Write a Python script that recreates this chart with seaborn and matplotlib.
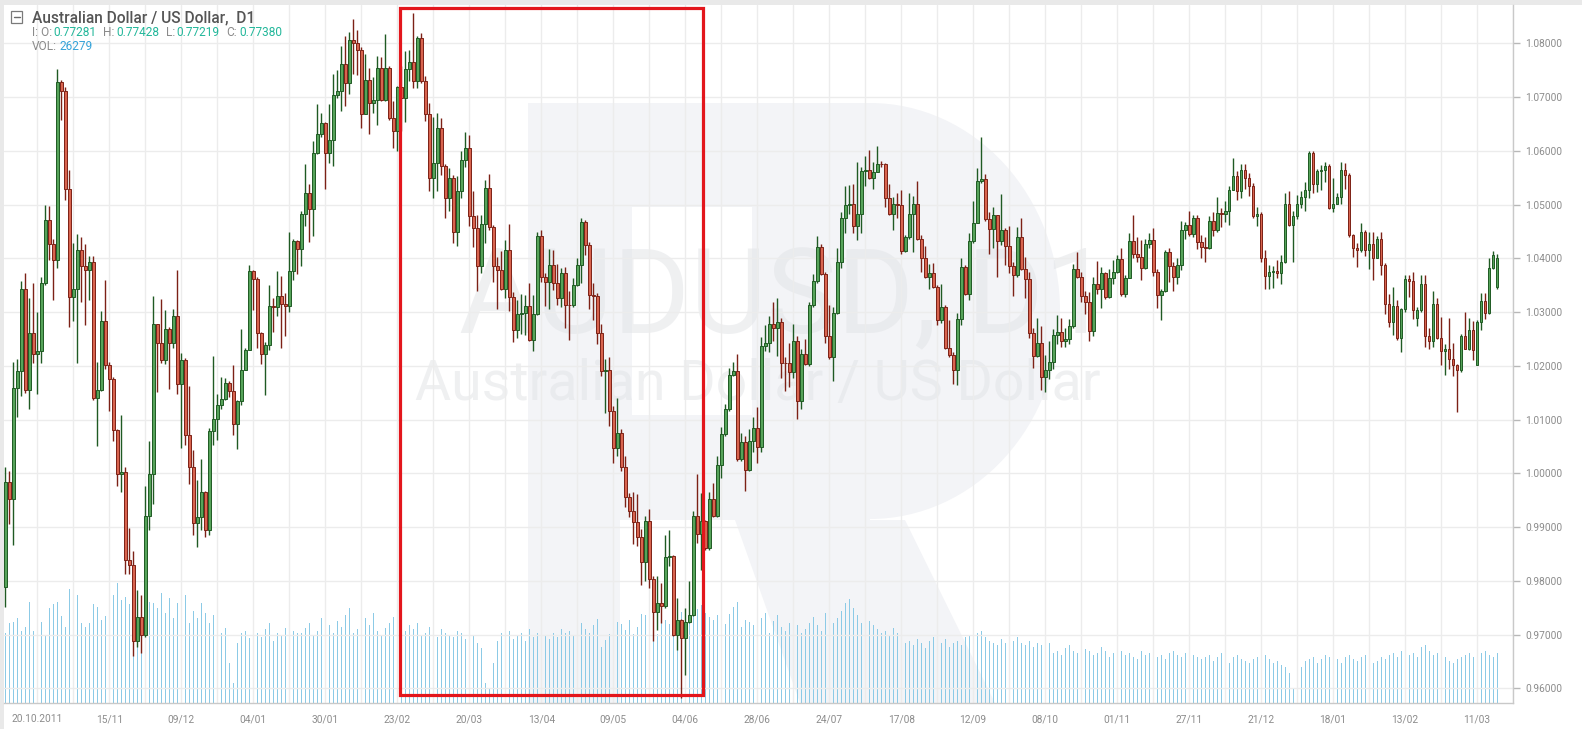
import matplotlib
matplotlib.use("Agg")
import matplotlib.pyplot as plt
import numpy as np
import pandas as pd
import seaborn as sns
from matplotlib.patches import Rectangle, Polygon, Ellipse

# ---------------- data (prices in 1e-4 units) ----------------
closes = [9984, 9952, 10158, 10190, 10344, 10155, 10262, 10222, 10228, 10354, 10472, 10426, 10397, 10729, 10711, 10529, 10329, 10344, 10416, 10386,
          10378, 10393, 10140, 10155, 10283, 10201, 10176, 10080, 9998, 10002, 9839, 9830, 9688, 9732, 9699, 9920, 9998, 10278, 10242, 10211,
          10269, 10242, 10293, 10166, 10211, 10071, 10012, 9907, 9919, 9966, 9894, 10078, 10101, 10127, 10139, 10168, 10153, 10091, 10135, 10193,
          10230, 10376, 10362, 10261, 10222, 10238, 10311, 10309, 10330, 10315, 10312, 10376, 10433, 10418, 10482, 10522, 10491, 10597, 10631, 10651,
          10597, 10620, 10704, 10711, 10761, 10727, 10806, 10800, 10788, 10668, 10732, 10690, 10694, 10755, 10694, 10755, 10661, 10637, 10718, 10699,
          10752, 10766, 10730, 10810, 10730, 10668, 10550, 10578, 10643, 10572, 10513, 10550, 10450, 10525, 10584, 10605, 10478, 10457, 10385, 10464,
          10531, 10458, 10385, 10379, 10343, 10416, 10329, 10267, 10296, 10298, 10312, 10248, 10296, 10441, 10365, 10356, 10388, 10354, 10327, 10373,
          10314, 10313, 10351, 10387, 10468, 10425, 10331, 10330, 10261, 10191, 10193, 10116, 10048, 10076, 10012, 9957, 9930, 9909, 9882, 9835,
          9911, 9804, 9742, 9758, 9753, 9845, 9846, 9700, 9727, 9694, 9723, 9737, 9920, 9888, 9911, 9861, 9952, 9920, 10015, 10073,
          10119, 10184, 10191, 10027, 10058, 10006, 10060, 10085, 10050, 10237, 10243, 10278, 10270, 10282, 10206, 10205, 10188, 10247, 10135, 10222,
          10203, 10313, 10358, 10422, 10371, 10255, 10217, 10299, 10393, 10475, 10499, 10501, 10460, 10483, 10563, 10565, 10549, 10561, 10576, 10575,
          10512, 10483, 10501, 10500, 10414, 10440, 10482, 10502, 10437, 10401, 10366, 10372, 10347, 10285, 10310, 10234, 10220, 10192, 10288, 10384,
          10333, 10432, 10465, 10544, 10548, 10473, 10455, 10480, 10432, 10453, 10424, 10386, 10369, 10440, 10380, 10361, 10262, 10219, 10242, 10179,
          10192, 10207, 10258, 10263, 10246, 10250, 10275, 10381, 10366, 10330, 10319, 10265, 10353, 10344, 10372, 10329, 10363, 10374, 10399, 10333,
          10363, 10432, 10409, 10403, 10383, 10426, 10434, 10375, 10332, 10339, 10412, 10386, 10366, 10388, 10453, 10463, 10445, 10476, 10431, 10422,
          10419, 10470, 10453, 10484, 10482, 10488, 10527, 10554, 10525, 10565, 10550, 10534, 10478, 10482, 10400, 10368, 10375, 10376, 10372, 10393,
          10502, 10462, 10478, 10502, 10515, 10527, 10596, 10538, 10563, 10565, 10571, 10494, 10502, 10515, 10565, 10555, 10443, 10420, 10416, 10450,
          10416, 10426, 10401, 10436, 10388, 10316, 10281, 10312, 10251, 10306, 10361, 10358, 10304, 10304, 10353, 10256, 10246, 10316, 10252, 10227,
          10232, 10212, 10201, 10192, 10256, 10232, 10266, 10229, 10281, 10320, 10298, 10383, 10406, 10400]

highs = [10012, 10005, 10207, 10212, 10358, 10372, 10327, 10354, 10300, 10365, 10500, 10497, 10436, 10753, 10732, 10718, 10565, 10429, 10445, 10440,
         10426, 10404, 10405, 10208, 10302, 10359, 10208, 10180, 10083, 10108, 10012, 9898, 9855, 9784, 9773, 9977, 10060, 10330, 10278, 10325,
         10304, 10273, 10306, 10379, 10224, 10214, 10163, 10043, 9988, 10027, 9967, 10085, 10219, 10148, 10180, 10177, 10171, 10202, 10137, 10268,
         10234, 10387, 10379, 10365, 10264, 10245, 10351, 10327, 10377, 10367, 10335, 10450, 10437, 10435, 10488, 10575, 10539, 10619, 10687, 10671,
         10653, 10687, 10743, 10750, 10796, 10814, 10822, 10845, 10825, 10793, 10780, 10755, 10737, 10777, 10774, 10817, 10758, 10693, 10720, 10758,
         10786, 10788, 10856, 10814, 10819, 10740, 10690, 10663, 10670, 10662, 10575, 10569, 10556, 10553, 10600, 10635, 10630, 10526, 10481, 10481,
         10545, 10557, 10463, 10402, 10413, 10435, 10464, 10337, 10323, 10334, 10331, 10354, 10332, 10450, 10452, 10373, 10418, 10416, 10389, 10382,
         10384, 10340, 10363, 10401, 10475, 10472, 10430, 10354, 10335, 10278, 10212, 10216, 10125, 10141, 10082, 10032, 9963, 9965, 9961, 9896,
         9920, 9933, 9809, 9810, 9796, 9886, 9894, 9849, 9768, 9729, 9750, 9799, 9930, 9998, 9964, 9914, 9965, 9983, 10032, 10087,
         10129, 10197, 10207, 10222, 10076, 10070, 10083, 10105, 10124, 10253, 10276, 10293, 10319, 10327, 10290, 10216, 10243, 10278, 10256, 10231,
         10250, 10318, 10371, 10442, 10427, 10375, 10313, 10309, 10420, 10486, 10535, 10537, 10539, 10579, 10570, 10591, 10601, 10579, 10610, 10582,
         10578, 10539, 10514, 10522, 10527, 10443, 10521, 10517, 10544, 10443, 10424, 10389, 10391, 10350, 10353, 10313, 10285, 10225, 10298, 10400,
         10388, 10447, 10506, 10568, 10625, 10557, 10487, 10496, 10481, 10519, 10457, 10461, 10394, 10459, 10475, 10403, 10375, 10270, 10289, 10275,
         10220, 10246, 10268, 10294, 10289, 10270, 10288, 10389, 10411, 10375, 10339, 10338, 10366, 10395, 10384, 10375, 10381, 10397, 10407, 10419,
         10369, 10447, 10480, 10440, 10434, 10437, 10447, 10456, 10381, 10344, 10416, 10420, 10394, 10400, 10470, 10468, 10488, 10481, 10480, 10443,
         10439, 10478, 10487, 10515, 10494, 10506, 10534, 10586, 10563, 10575, 10575, 10558, 10540, 10496, 10486, 10416, 10388, 10386, 10397, 10407,
         10521, 10525, 10488, 10518, 10525, 10542, 10599, 10599, 10566, 10573, 10579, 10575, 10549, 10521, 10579, 10577, 10558, 10445, 10428, 10465,
         10452, 10450, 10450, 10442, 10450, 10391, 10333, 10347, 10322, 10308, 10370, 10370, 10375, 10310, 10369, 10369, 10270, 10339, 10327, 10291,
         10240, 10289, 10242, 10204, 10260, 10301, 10289, 10283, 10285, 10335, 10335, 10400, 10414, 10409]

lows = [9752, 9905, 9866, 10105, 10144, 10150, 10119, 10205, 10148, 10205, 10350, 10397, 10322, 10383, 10657, 10508, 10272, 10283, 10205, 10319,
        10276, 10322, 10136, 10051, 10153, 10194, 10116, 10060, 9977, 9966, 9813, 9813, 9660, 9677, 9665, 9695, 9895, 9944, 10152, 10205,
        10203, 10157, 10233, 10147, 10048, 10053, 9981, 9885, 9863, 9894, 9882, 9885, 10053, 10062, 10120, 10137, 10143, 10071, 10045, 10127,
        10193, 10230, 10304, 10233, 10203, 10146, 10230, 10263, 10292, 10234, 10255, 10301, 10360, 10371, 10386, 10460, 10431, 10442, 10594, 10625,
        10529, 10578, 10572, 10698, 10675, 10684, 10706, 10743, 10742, 10643, 10668, 10631, 10670, 10648, 10693, 10693, 10657, 10606, 10600, 10637,
        10653, 10730, 10717, 10717, 10727, 10656, 10525, 10512, 10525, 10555, 10475, 10488, 10429, 10424, 10512, 10570, 10460, 10422, 10339, 10373,
        10429, 10453, 10357, 10306, 10342, 10326, 10302, 10244, 10252, 10259, 10258, 10247, 10227, 10295, 10356, 10311, 10306, 10342, 10314, 10309,
        10271, 10248, 10309, 10349, 10354, 10407, 10306, 10286, 10240, 10181, 10113, 10088, 10020, 10032, 10004, 9938, 9919, 9868, 9865, 9793,
        9799, 9787, 9688, 9709, 9722, 9750, 9827, 9697, 9672, 9582, 9625, 9722, 9734, 9871, 9820, 9858, 9858, 9919, 9919, 9992,
        10070, 10116, 10181, 10023, 10023, 9967, 10004, 10040, 10020, 10040, 10228, 10226, 10247, 10219, 10178, 10153, 10160, 10178, 10101, 10119,
        10201, 10200, 10309, 10354, 10369, 10243, 10212, 10172, 10296, 10383, 10448, 10483, 10448, 10435, 10447, 10535, 10548, 10530, 10560, 10570,
        10495, 10480, 10453, 10475, 10409, 10412, 10437, 10412, 10434, 10375, 10363, 10344, 10345, 10276, 10279, 10232, 10217, 10167, 10164, 10276,
        10332, 10322, 10428, 10465, 10540, 10470, 10409, 10419, 10366, 10425, 10388, 10372, 10330, 10366, 10378, 10327, 10251, 10196, 10217, 10155,
        10152, 10176, 10195, 10240, 10235, 10235, 10240, 10270, 10363, 10319, 10296, 10246, 10256, 10333, 10307, 10325, 10327, 10353, 10372, 10330,
        10329, 10363, 10400, 10394, 10360, 10381, 10419, 10368, 10307, 10285, 10337, 10357, 10339, 10352, 10378, 10437, 10442, 10440, 10417, 10401,
        10394, 10417, 10442, 10450, 10459, 10468, 10462, 10527, 10509, 10512, 10530, 10517, 10475, 10461, 10393, 10344, 10344, 10345, 10363, 10353,
        10391, 10461, 10394, 10473, 10494, 10488, 10513, 10521, 10523, 10527, 10543, 10492, 10486, 10502, 10502, 10530, 10439, 10403, 10384, 10412,
        10405, 10380, 10360, 10400, 10369, 10296, 10273, 10257, 10248, 10226, 10301, 10329, 10287, 10275, 10301, 10235, 10232, 10235, 10250, 10201,
        10183, 10195, 10181, 10114, 10189, 10231, 10229, 10211, 10201, 10266, 10288, 10296, 10380, 10343]

# opening prices that differ from the previous close (gaps)
open_overrides = {0: 9788, 353: 10290, 368: 10202, 373: 10347}

volumes = [70, 80, 81, 85, 72, 76, 101, 72, 114, 81, 68, 95, 99, 101, 87, 76, 114, 81, 108, 80, 76, 80, 99, 96, 83, 87, 92, 108, 120, 103, 106, 99, 95, 59, 91, 68, 101,
           100, 95, 110, 90, 105, 85, 100, 95, 108, 80, 92, 85, 100, 90, 80, 88, 95, 70, 75, 40, 20, 60, 70, 72, 65, 78, 70, 66, 74, 80, 62, 70, 68, 75, 64, 72, 70,
           70, 75, 80, 68, 72, 85, 90, 78, 70, 82, 76, 88, 95, 70, 74, 80, 85, 78, 90, 72, 68, 75, 80, 86, 70, 64, 72, 78, 74, 80, 68, 70, 76, 72, 66, 74, 70, 68,
           66, 72, 70, 64, 74, 68, 60, 55, 20, 15, 40, 62, 70, 66, 72, 64, 68, 70, 62, 74, 66, 70, 72, 68, 64, 70, 66, 74, 70, 72, 68, 76, 80, 74, 70, 78, 84,
           56, 63, 69, 86, 81, 79, 73, 83, 69, 76, 89, 88, 94, 73, 69, 88, 83, 79, 88, 84, 91, 84, 83, 88, 94, 98, 90, 86, 83, 88, 83, 79, 89, 96, 101, 76, 83, 81,
           78, 80, 85, 90, 70, 82, 88, 76, 72, 80, 85, 78, 70, 74, 80, 86, 78, 72, 90, 95, 80, 85, 92, 100, 104, 95, 88, 80, 76, 82, 78, 74, 70, 72, 68, 75, 70,
           65, 60, 62, 58, 64, 60, 55, 62, 66, 58, 60, 64, 56, 60, 62, 58, 66, 68, 64, 70, 72, 66, 62, 60, 58, 64, 60, 56, 62, 66, 60, 58, 62, 56, 60, 58, 64, 60,
           50, 52, 48, 55, 58, 52, 50, 46, 54, 52, 48, 50, 56, 52, 46, 50, 54, 52, 48, 50, 46, 44, 52, 48, 50, 54, 46, 48, 44, 50, 52, 48, 46, 50, 44, 48, 46,
           44, 46, 48, 42, 46, 50, 44, 40, 46, 48, 44, 42, 40, 44, 46, 42, 48, 44, 40, 42, 38, 36, 30, 15, 12, 36, 42, 44, 46, 40, 44, 48, 46, 42, 44, 40, 46, 48,
           44, 42, 46, 48, 44, 40, 42, 46, 44, 48, 50, 46, 52, 54, 48, 50, 46, 56, 58, 52, 48, 50, 44, 46, 42, 40, 44, 46, 48, 50, 46, 44, 50, 52, 48, 46, 50]

date_labels = ["20.10.2011", "15/11", "09/12", "04/01", "30/01", "23/02", "20/03", "13/04", "09/05", "04/06",
               "28/06", "24/07", "17/08", "12/09", "08/10", "01/11", "27/11", "21/12", "18/01", "13/02", "11/03"]
price_ticks = [0.96, 0.97, 0.98, 0.99, 1.00, 1.01, 1.02, 1.03, 1.04, 1.05, 1.06, 1.07, 1.08]

# ---------------- figure ----------------
sns.set_theme(style="white")
plt.rcParams["font.family"] = ["Roboto", "DejaVu Sans"]

W, H = 1582, 729
fig = plt.figure(figsize=(W / 100, H / 100), dpi=100)
fig.patch.set_facecolor("white")

PL, PR, PT, PB = 4, 1513, 5, 703          # plot area in pixels
rect = [PL / W, 1 - PB / H, (PR - PL) / W, (PB - PT) / H]


def fx(px):
    return px / W


def fy(py):
    return 1 - py / H


# top / left light frame band
fig.patches.append(Rectangle((0, fy(PT)), 1, 1 - fy(PT), transform=fig.transFigure, facecolor="#e9e9e9", edgecolor="none", zorder=0.1))
fig.patches.append(Rectangle((0, 0), fx(PL), 1, transform=fig.transFigure, facecolor="#e9e9e9", edgecolor="none", zorder=0.1))

# background "R" logo
logo_col = "#f3f4f7"
stem = Rectangle((fx(528), fy(PB)), fx(620) - fx(528), fy(103) - fy(PB), transform=fig.transFigure, facecolor=logo_col, edgecolor="none", zorder=0.3)
bowl_rect = Rectangle((fx(528), fy(520)), fx(870) - fx(528), fy(103) - fy(520), transform=fig.transFigure, facecolor=logo_col, edgecolor="none", zorder=0.3)
bowl_round = Ellipse((fx(870), fy(311)), 2 * 190 / W, 2 * 208 / H, transform=fig.transFigure, facecolor=logo_col, edgecolor="none", zorder=0.3)
counter = Rectangle((fx(632), fy(415)), fx(752) - fx(632), fy(207) - fy(415), transform=fig.transFigure, facecolor="white", edgecolor="none", zorder=0.31)
leg = Polygon([(fx(735), fy(520)), (fx(905), fy(520)), (fx(995), fy(PB)), (fx(800), fy(PB))], closed=True, transform=fig.transFigure,
              facecolor=logo_col, edgecolor="none", zorder=0.3)
for p in (stem, bowl_rect, bowl_round, counter, leg):
    fig.patches.append(p)

# watermark texts
fig.text(fx(785), fy(333), "AUDUSD, D1", fontsize=85, color="#e2e4e7", alpha=0.55, ha="center", va="baseline", zorder=0.4)
fig.text(fx(758), fy(400), "Australian Dollar / US Dollar", fontsize=40, color="#e2e4e7", alpha=0.55, ha="center", va="baseline", zorder=0.4)

# volume axes (below)
axv = fig.add_axes(rect, zorder=1)
axv.patch.set_visible(False)
n = len(closes)
idx = np.arange(n)
vol_df = pd.DataFrame({"idx": idx, "vol": volumes})
sns.barplot(data=vol_df, x="idx", y="vol", native_scale=True, width=0.26, color="#8ccae6", saturation=1,
            errorbar=None, linewidth=0, ax=axv)
for bar in axv.patches:
    bar.set_antialiased(False)
axv.set_xlim(-0.33, 376.9)
axv.set_ylim(0, PB - PT)
axv.axis("off")

# price axes (top)
ax = fig.add_axes(rect, zorder=2)
ax.patch.set_alpha(0)

c = np.array(closes) / 1e4
o = np.empty(n)
o[1:] = c[:-1]
for k, v in open_overrides.items():
    o[k] = v / 1e4
h = np.maximum(np.array(highs) / 1e4, np.maximum(o, c))
lo = np.minimum(np.array(lows) / 1e4, np.minimum(o, c))
up = c >= o

green_fill, green_edge = "#56a35a", "#1f5a23"
red_fill, red_edge = "#d8644f", "#7c2116"
edge_cols = np.where(up, green_edge, red_edge)
fill_cols = np.where(up, green_fill, red_fill)

ax.vlines(idx, lo, h, colors=edge_cols, linewidth=1.0, zorder=3)
body_bottom = np.minimum(o, c)
body_h = np.maximum(np.abs(c - o), 0.00008)
ax.bar(idx, body_h, bottom=body_bottom, width=0.72, color=fill_cols, edgecolor=edge_cols, linewidth=0.7, zorder=4)

ax.set_xlim(-0.33, 376.9)
# price scale: 1.08 at pixel 43.4, 53.75 px per 0.01
ax.set_ylim(1.08 - (PB - 43.4) / 5375, 1.08 + (43.4 - PT) / 5375)

# ticks & grid
label_pos = [8 + 18 * k for k in range(len(date_labels))]
ax.set_xticks(label_pos)
ax.set_xticklabels(date_labels)
ax.set_xticks([17 + 18 * k for k in range(len(date_labels))], minor=True)
ax.set_yticks(price_ticks)
ax.set_yticklabels([f"{t:.5f}" for t in price_ticks])
ax.yaxis.tick_right()
ax.tick_params(axis="y", which="major", length=5, width=1, color="#b8b8b8", pad=4, labelsize=7.3, labelcolor="#8c8c8c")
ax.tick_params(axis="x", which="major", length=4, width=1, color="#b8b8b8", pad=4, labelsize=7.3, labelcolor="#8c8c8c")
ax.tick_params(axis="x", which="minor", length=0)
ax.grid(True, which="both", axis="x", color="#ececec", linewidth=1, zorder=0)
ax.grid(True, which="major", axis="y", color="#ececec", linewidth=1, zorder=0)
ax.set_axisbelow(True)
for s in ("top", "left"):
    ax.spines[s].set_visible(False)
for s in ("right", "bottom"):
    ax.spines[s].set_color("#c9c9c9")
    ax.spines[s].set_linewidth(1)

# highlighted region
ax.add_patch(Rectangle((98.8, 0.95883), 174.5 - 98.8, 1.08657 - 0.95883, fill=False, edgecolor="#e3161c", linewidth=2.3,
                       zorder=6, clip_on=False))

# ---------------- header ----------------
fig.patches.append(Rectangle((fx(11), fy(23)), 11 / W, 12 / H, transform=fig.transFigure, facecolor="white", edgecolor="#7a7a7a",
                             linewidth=0.9, zorder=5))
fig.lines.append(plt.Line2D([fx(13.5), fx(19.5)], [fy(17), fy(17)], transform=fig.transFigure, color="#6a6a6a", linewidth=1, zorder=6))
fig.text(fx(32), fy(22.5), "Australian Dollar / US Dollar,  D1", fontsize=11.2, color="#555555", fontweight="medium", ha="left",
         va="baseline", zorder=6)
lbl_col, val_col = "#8a8a8a", "#22b79a"
segs = [(32, "I: O:", lbl_col), (53.3, "0.77281", val_col), (102.7, "H:", lbl_col), (116, "0.77428", val_col),
        (165.7, "L:", lbl_col), (176.7, "0.77219", val_col), (226, "C:", lbl_col), (239.3, "0.77380", val_col)]
for x0, s, col in segs:
    fig.text(fx(x0), fy(36.5), s, fontsize=8.6, color=col, ha="left", va="baseline", zorder=6)
fig.text(fx(32), fy(50), "VOL:", fontsize=8.6, color=lbl_col, ha="left", va="baseline", zorder=6)
fig.text(fx(59.3), fy(50), "26279", fontsize=8.6, color="#35a3d9", ha="left", va="baseline", zorder=6)

fig.savefig("out.png", dpi=100, facecolor="white")
